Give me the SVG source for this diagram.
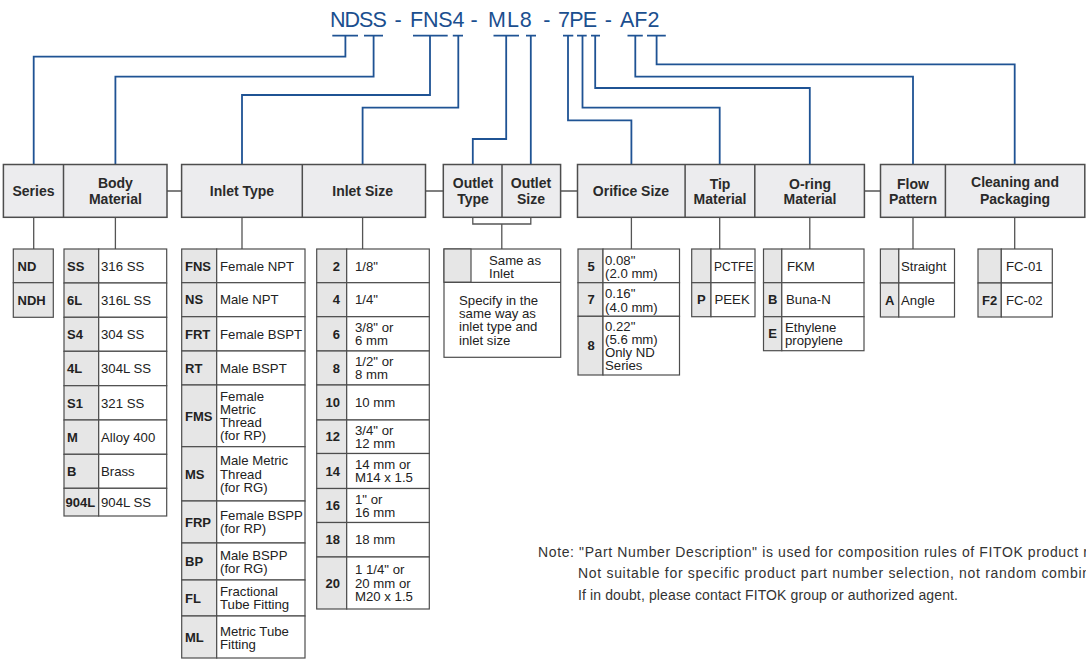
<svg xmlns="http://www.w3.org/2000/svg" width="1086" height="662" viewBox="0 0 1086 662">
<style>
.bg{fill:#fff}
.title{font-family:"Liberation Sans",Arial,sans-serif;font-size:21.5px;fill:#1b4f8f}
.blue{fill:none;stroke:#1f5394;stroke-width:1.8}
.gray{fill:none;stroke:#555;stroke-width:1.3}
.hb{fill:#ececee;stroke:#4d4d4d;stroke-width:1.5}
.ht{font-family:"Liberation Sans",Arial,sans-serif;font-size:14px;font-weight:bold;fill:#2a2a2a;text-anchor:middle}
.c{fill:#e6e6e6;stroke:#4d4d4d;stroke-width:1.2}
.v{fill:#fff;stroke:#4d4d4d;stroke-width:1.2}
.k{font-family:"Liberation Sans",Arial,sans-serif;font-size:13px;font-weight:bold;fill:#222}
.km{font-family:"Liberation Sans",Arial,sans-serif;font-size:13px;font-weight:bold;fill:#222;text-anchor:middle}
.kr{font-family:"Liberation Sans",Arial,sans-serif;font-size:13px;font-weight:bold;fill:#222;text-anchor:end}
.t{font-family:"Liberation Sans",Arial,sans-serif;font-size:13.2px;fill:#222}
.note{font-family:"Liberation Sans",Arial,sans-serif;font-size:14px;fill:#333}
</style>
<rect class="bg" x="0" y="0" width="1086" height="662"/>

<g id="title">
<text class="title" y="26.5" xml:space="preserve"><tspan x="330" letter-spacing="-1">NDSS </tspan><tspan x="394.5">- </tspan><tspan x="410" letter-spacing="-0.2">FNS4 </tspan><tspan x="470.5">- </tspan><tspan x="488" letter-spacing="1">ML8 </tspan><tspan x="543.2">- </tspan><tspan x="558" letter-spacing="-0.8">7PE </tspan><tspan x="604.8">- </tspan><tspan x="620">AF2</tspan></text>
</g>

<g id="connectors">
<g class="blue">
<path d="M332.3 35.7H358M364 35.7H383M413 35.7H447.7M452.8 35.7H463M493.5 35.7H519M526 35.7H536M563 35.7H573.3M577 35.7H586.7M591 35.7H600M627.5 35.7H642.8M647 35.7H665.8"/>
<path d="M345.4 35.7V56.7H33.7V164.5"/>
<path d="M373.6 35.7V76.7H115.4V164.5"/>
<path d="M430 35.7V95H242V164.5"/>
<path d="M458.3 35.7V107.7H362.6V164.5"/>
<path d="M506.2 35.7V139H472.8V164.5"/>
<path d="M530.8 35.7V164.5"/>
<path d="M568 35.7V120.3H631.4V164.5"/>
<path d="M582.5 35.7V107.7H719.7V164.5"/>
<path d="M595.2 35.7V88H809.8V164.5"/>
<path d="M635.3 35.7V76.7H913V164.5"/>
<path d="M656.6 35.7V64.3H1014.7V164.5"/>
</g>
<g class="gray">
<path d="M167 191H181.6M425.5 191H443.3M560.6 191H577.5M864.4 191H880.5"/>
<path d="M33.7 217.3V249M115.4 217.3V249M242 217.3V249M362.6 217.3V249"/>
<path d="M472.8 217.3V224H530.8V217.3M501.8 224V249"/>
<path d="M631.4 217.3V249M719.7 217.3V249M809.8 217.3V249M913 217.3V249M1014.7 217.3V249"/>
</g>
</g>

<g id="hdr-series-body">
<rect class="hb" x="3.4" y="164.5" width="163.6" height="52.8"/>
<path class="hb" d="M63.5 164.5V217.3"/>
<text class="ht" x="33.5" y="196">Series</text>
<text class="ht" x="115.4" y="188">Body</text>
<text class="ht" x="115.4" y="204">Material</text>
</g>
<g id="hdr-inlet">
<rect class="hb" x="181.6" y="164.5" width="243.9" height="52.8"/>
<path class="hb" d="M302.3 164.5V217.3"/>
<text class="ht" x="242" y="196">Inlet Type</text>
<text class="ht" x="362.6" y="196">Inlet Size</text>
</g>
<g id="hdr-outlet">
<rect class="hb" x="443.3" y="164.5" width="117.3" height="52.8"/>
<path class="hb" d="M502 164.5V217.3"/>
<text class="ht" x="473" y="187.5">Outlet</text>
<text class="ht" x="473" y="203.5">Type</text>
<text class="ht" x="531" y="187.5">Outlet</text>
<text class="ht" x="531" y="203.5">Size</text>
</g>
<g id="hdr-orifice">
<rect class="hb" x="577.5" y="164.5" width="286.9" height="52.8"/>
<path class="hb" d="M685.1 164.5V217.3M754.8 164.5V217.3"/>
<text class="ht" x="631" y="196">Orifice Size</text>
<text class="ht" x="720" y="188.5">Tip</text>
<text class="ht" x="720" y="204">Material</text>
<text class="ht" x="810" y="188.5">O-ring</text>
<text class="ht" x="810" y="204">Material</text>
</g>
<g id="hdr-flow">
<rect class="hb" x="880.5" y="164.5" width="204.3" height="52.8"/>
<path class="hb" d="M945.4 164.5V217.3"/>
<text class="ht" x="913" y="188.5">Flow</text>
<text class="ht" x="913" y="204">Pattern</text>
<text class="ht" x="1015" y="187">Cleaning and</text>
<text class="ht" x="1015" y="203.5">Packaging</text>
</g>

<g id="tbl-series">
<rect class="c" x="13.3" y="249" width="40" height="33.7"/>
<rect class="c" x="13.3" y="282.7" width="40" height="34.6"/>
<text class="k" x="17.5" y="270.5">ND</text>
<text class="k" x="17.5" y="304.7">NDH</text>
</g>

<g id="tbl-body">
<rect class="c" x="64" y="249" width="34.7" height="34"/><rect class="v" x="98.7" y="249" width="68" height="34"/>
<rect class="c" x="64" y="283" width="34.7" height="34.3"/><rect class="v" x="98.7" y="283" width="68" height="34.3"/>
<rect class="c" x="64" y="317.3" width="34.7" height="34"/><rect class="v" x="98.7" y="317.3" width="68" height="34"/>
<rect class="c" x="64" y="351.3" width="34.7" height="34.4"/><rect class="v" x="98.7" y="351.3" width="68" height="34.4"/>
<rect class="c" x="64" y="385.7" width="34.7" height="34.3"/><rect class="v" x="98.7" y="385.7" width="68" height="34.3"/>
<rect class="c" x="64" y="420" width="34.7" height="34.3"/><rect class="v" x="98.7" y="420" width="68" height="34.3"/>
<rect class="c" x="64" y="454.3" width="34.7" height="34"/><rect class="v" x="98.7" y="454.3" width="68" height="34"/>
<rect class="c" x="64" y="488.3" width="34.7" height="27.7"/><rect class="v" x="98.7" y="488.3" width="68" height="27.7"/>
<text class="k" x="67" y="270.7">SS</text><text class="t" x="101" y="270.7">316 SS</text>
<text class="k" x="67" y="304.8">6L</text><text class="t" x="101" y="304.8">316L SS</text>
<text class="k" x="67" y="339">S4</text><text class="t" x="101" y="339">304 SS</text>
<text class="k" x="67" y="373.2">4L</text><text class="t" x="101" y="373.2">304L SS</text>
<text class="k" x="67" y="407.5">S1</text><text class="t" x="101" y="407.5">321 SS</text>
<text class="k" x="67" y="441.8">M</text><text class="t" x="101" y="441.8">Alloy 400</text>
<text class="k" x="67" y="476">B</text><text class="t" x="101" y="476">Brass</text>
<text class="k" x="65.5" y="506.8">904L</text><text class="t" x="101" y="506.8">904L SS</text>
</g>

<g id="tbl-inlet-type">
<rect class="c" x="181.7" y="249" width="35" height="33.7"/><rect class="v" x="216.7" y="249" width="88.3" height="33.7"/>
<rect class="c" x="181.7" y="282.7" width="35" height="34"/><rect class="v" x="216.7" y="282.7" width="88.3" height="34"/>
<rect class="c" x="181.7" y="316.7" width="35" height="34.3"/><rect class="v" x="216.7" y="316.7" width="88.3" height="34.3"/>
<rect class="c" x="181.7" y="351" width="35" height="34"/><rect class="v" x="216.7" y="351" width="88.3" height="34"/>
<rect class="c" x="181.7" y="385" width="35" height="61.7"/><rect class="v" x="216.7" y="385" width="88.3" height="61.7"/>
<rect class="c" x="181.7" y="446.7" width="35" height="54.3"/><rect class="v" x="216.7" y="446.7" width="88.3" height="54.3"/>
<rect class="c" x="181.7" y="501" width="35" height="42"/><rect class="v" x="216.7" y="501" width="88.3" height="42"/>
<rect class="c" x="181.7" y="543" width="35" height="37"/><rect class="v" x="216.7" y="543" width="88.3" height="37"/>
<rect class="c" x="181.7" y="580" width="35" height="36"/><rect class="v" x="216.7" y="580" width="88.3" height="36"/>
<rect class="c" x="181.7" y="616" width="35" height="42"/><rect class="v" x="216.7" y="616" width="88.3" height="42"/>
<text class="k" x="185" y="270.5">FNS</text><text class="t" x="220" y="270.5">Female NPT</text>
<text class="k" x="185" y="304.4">NS</text><text class="t" x="220" y="304.4">Male NPT</text>
<text class="k" x="185" y="338.5">FRT</text><text class="t" x="220" y="338.5">Female BSPT</text>
<text class="k" x="185" y="372.7">RT</text><text class="t" x="220" y="372.7">Male BSPT</text>
<text class="k" x="185" y="420.5">FMS</text><text class="t" x="220" y="400.7">Female</text><text class="t" x="220" y="413.9">Metric</text><text class="t" x="220" y="427.1">Thread</text><text class="t" x="220" y="440.3">(for RP)</text>
<text class="k" x="185" y="478.5">MS</text><text class="t" x="220" y="465.3">Male Metric</text><text class="t" x="220" y="478.5">Thread</text><text class="t" x="220" y="491.7">(for RG)</text>
<text class="k" x="185" y="526.7">FRP</text><text class="t" x="220" y="520.1">Female BSPP</text><text class="t" x="220" y="533.3">(for RP)</text>
<text class="k" x="185" y="566.2">BP</text><text class="t" x="220" y="559.6">Male BSPP</text><text class="t" x="220" y="572.8">(for RG)</text>
<text class="k" x="185" y="602.7">FL</text><text class="t" x="220" y="596.1">Fractional</text><text class="t" x="220" y="609.3">Tube Fitting</text>
<text class="k" x="185" y="641.7">ML</text><text class="t" x="220" y="635.5">Metric Tube</text><text class="t" x="220" y="648.7">Fitting</text>
</g>

<g id="tbl-inlet-size">
<rect class="c" x="316.7" y="249" width="30" height="33.7"/><rect class="v" x="346.7" y="249" width="82.6" height="33.7"/>
<rect class="c" x="316.7" y="282.7" width="30" height="34"/><rect class="v" x="346.7" y="282.7" width="82.6" height="34"/>
<rect class="c" x="316.7" y="316.7" width="30" height="34.3"/><rect class="v" x="346.7" y="316.7" width="82.6" height="34.3"/>
<rect class="c" x="316.7" y="351" width="30" height="34"/><rect class="v" x="346.7" y="351" width="82.6" height="34"/>
<rect class="c" x="316.7" y="385" width="30" height="35"/><rect class="v" x="346.7" y="385" width="82.6" height="35"/>
<rect class="c" x="316.7" y="420" width="30" height="33.5"/><rect class="v" x="346.7" y="420" width="82.6" height="33.5"/>
<rect class="c" x="316.7" y="453.5" width="30" height="35"/><rect class="v" x="346.7" y="453.5" width="82.6" height="35"/>
<rect class="c" x="316.7" y="488.5" width="30" height="34"/><rect class="v" x="346.7" y="488.5" width="82.6" height="34"/>
<rect class="c" x="316.7" y="522.5" width="30" height="34.5"/><rect class="v" x="346.7" y="522.5" width="82.6" height="34.5"/>
<rect class="c" x="316.7" y="557" width="30" height="52"/><rect class="v" x="346.7" y="557" width="82.6" height="52"/>
<text class="kr" x="340" y="270.5">2</text><text class="t" x="355" y="270.5">1/8"</text>
<text class="kr" x="340" y="304.4">4</text><text class="t" x="355" y="304.4">1/4"</text>
<text class="kr" x="340" y="338.5">6</text><text class="t" x="355" y="331.9">3/8" or</text><text class="t" x="355" y="345.1">6 mm</text>
<text class="kr" x="340" y="372.7">8</text><text class="t" x="355" y="366.1">1/2" or</text><text class="t" x="355" y="379.3">8 mm</text>
<text class="kr" x="340" y="407.2">10</text><text class="t" x="355" y="407.2">10 mm</text>
<text class="kr" x="340" y="441.4">12</text><text class="t" x="355" y="434.8">3/4" or</text><text class="t" x="355" y="448">12 mm</text>
<text class="kr" x="340" y="475.7">14</text><text class="t" x="355" y="469.1">14 mm or</text><text class="t" x="355" y="482.3">M14 x 1.5</text>
<text class="kr" x="340" y="510.2">16</text><text class="t" x="355" y="503.6">1" or</text><text class="t" x="355" y="516.8">16 mm</text>
<text class="kr" x="340" y="544.4">18</text><text class="t" x="355" y="544.4">18 mm</text>
<text class="kr" x="340" y="587.7">20</text><text class="t" x="355" y="574.2">1 1/4" or</text><text class="t" x="355" y="587.7">20 mm or</text><text class="t" x="355" y="601.2">M20 x 1.5</text>
</g>

<g id="tbl-outlet">
<rect class="v" x="444" y="249" width="116.7" height="108.3"/>
<rect class="c" x="444" y="249" width="27" height="33.3"/>
<path class="v" d="M444 282.3H560.7"/>
<text class="t" x="489" y="264.5">Same as</text><text class="t" x="489" y="277.7">Inlet</text>
<text class="t" x="459" y="305">Specify in the</text>
<text class="t" x="459" y="318.2">same way as</text>
<text class="t" x="459" y="331.4">inlet type and</text>
<text class="t" x="459" y="344.6">inlet size</text>
</g>

<g id="tbl-orifice">
<rect class="c" x="578" y="249" width="25" height="33.7"/><rect class="v" x="603" y="249" width="76.5" height="33.7"/>
<rect class="c" x="578" y="282.7" width="25" height="33.6"/><rect class="v" x="603" y="282.7" width="76.5" height="33.6"/>
<rect class="c" x="578" y="316.3" width="25" height="58.7"/><rect class="v" x="603" y="316.3" width="76.5" height="58.7"/>
<text class="km" x="591" y="270.5">5</text><text class="t" x="605" y="264.9">0.08"</text><text class="t" x="605" y="278.1">(2.0 mm)</text>
<text class="km" x="591" y="304.2">7</text><text class="t" x="605" y="298.4">0.16"</text><text class="t" x="605" y="311.6">(4.0 mm)</text>
<text class="km" x="591" y="350.3">8</text><text class="t" x="605" y="330.8">0.22"</text><text class="t" x="605" y="344">(5.6 mm)</text><text class="t" x="605" y="357.2">Only ND</text><text class="t" x="605" y="370.4">Series</text>
</g>

<g id="tbl-tip">
<rect class="c" x="691.7" y="249" width="19.3" height="33.7"/><rect class="v" x="711" y="249" width="44" height="33.7"/>
<rect class="c" x="691.7" y="282.7" width="19.3" height="34"/><rect class="v" x="711" y="282.7" width="44" height="34"/>
<text class="t" x="714" y="270.5" textLength="39.5" lengthAdjust="spacingAndGlyphs">PCTFE</text>
<text class="km" x="701.3" y="304.4">P</text><text class="t" x="714.5" y="304.4">PEEK</text>
</g>

<g id="tbl-oring">
<rect class="c" x="763.5" y="249" width="18.3" height="33.7"/><rect class="v" x="781.8" y="249" width="82.2" height="33.7"/>
<rect class="c" x="763.5" y="282.7" width="18.3" height="34"/><rect class="v" x="781.8" y="282.7" width="82.2" height="34"/>
<rect class="c" x="763.5" y="316.7" width="18.3" height="34"/><rect class="v" x="781.8" y="316.7" width="82.2" height="34"/>
<text class="t" x="787" y="270.5">FKM</text>
<text class="km" x="772.7" y="304.4">B</text><text class="t" x="786" y="304.4">Buna-N</text>
<text class="km" x="772.7" y="338.4">E</text><text class="t" x="785" y="331.8">Ethylene</text><text class="t" x="785" y="345">propylene</text>
</g>

<g id="tbl-flow">
<rect class="c" x="880.4" y="249" width="18.4" height="34"/><rect class="v" x="898.8" y="249" width="55.7" height="34"/>
<rect class="c" x="880.4" y="283" width="18.4" height="34"/><rect class="v" x="898.8" y="283" width="55.7" height="34"/>
<text class="t" x="901" y="270.7">Straight</text>
<text class="km" x="889.6" y="304.7">A</text><text class="t" x="901" y="304.7">Angle</text>
</g>

<g id="tbl-cleaning">
<rect class="c" x="978" y="249" width="23.3" height="34"/><rect class="v" x="1001.3" y="249" width="51" height="34"/>
<rect class="c" x="978" y="283" width="23.3" height="34"/><rect class="v" x="1001.3" y="283" width="51" height="34"/>
<text class="t" x="1006" y="270.7">FC-01</text>
<text class="km" x="989.6" y="304.7">F2</text><text class="t" x="1006" y="304.7">FC-02</text>
</g>

<g id="note">
<text class="note" x="538" y="556.5" textLength="550" lengthAdjust="spacing">Note: "Part Number Description" is used for composition rules of FITOK product r</text>
<text class="note" x="578" y="578" textLength="512" lengthAdjust="spacing">Not suitable for specific product part number selection, not random combin</text>
<text class="note" x="578" y="599.5" textLength="380" lengthAdjust="spacing">If in doubt, please contact FITOK group or authorized agent.</text>
</g>
</svg>
